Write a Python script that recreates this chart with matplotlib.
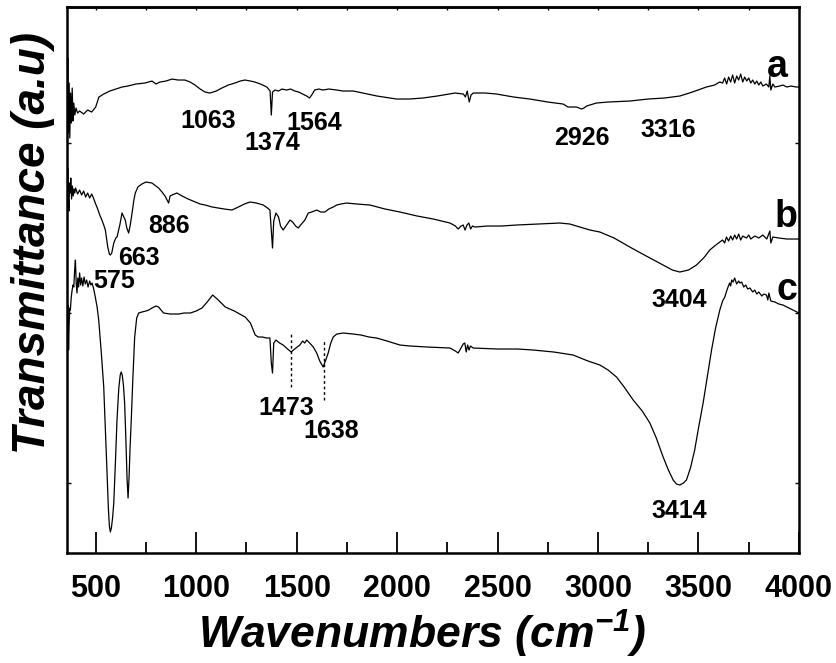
import matplotlib
matplotlib.use("Agg")
import matplotlib.pyplot as plt
from matplotlib.ticker import MultipleLocator

# FTIR spectra (wavenumber, transmittance in a.u.)
wn_a = [358, 361, 364, 368, 371, 375, 379, 383, 387, 391, 396, 402, 410, 420, 440, 460, 480, 500, 516, 540,
        570, 600, 631, 660, 700, 745, 780, 800, 820, 850, 880, 910, 944, 970, 994, 1020, 1044, 1069, 1100, 1128,
        1160, 1193, 1220, 1242, 1270, 1292, 1320, 1352, 1368, 1374, 1380, 1392, 1410, 1427, 1450, 1470, 1491, 1510,
        1530, 1550, 1564, 1575, 1590, 1610, 1630, 1661, 1700, 1730, 1782, 1830, 1900, 1997, 2060, 2128, 2200, 2288,
        2330, 2340, 2349, 2359, 2368, 2379, 2440, 2495, 2580, 2661, 2750, 2826, 2851, 2893, 2918, 2930, 2943, 2992,
        3050, 3158, 3250, 3330, 3407, 3470, 3539, 3580, 3606, 3620, 3630, 3640, 3650, 3660, 3670, 3680, 3690, 3700,
        3710, 3720, 3730, 3740, 3750, 3760, 3770, 3780, 3790, 3800, 3810, 3820, 3838, 3850, 3855, 3860, 3870, 3880,
        3904, 3920, 3940, 3960, 3987, 4000]
t_a = [378, 425, 350, 400, 345, 390, 360, 395, 362, 380, 368, 375, 370, 372, 369, 373, 371, 376, 386, 389,
       392, 394, 396, 397, 399, 400, 402, 399, 401, 402, 404, 403, 403, 401, 398, 394, 391, 390, 392, 395,
       398, 400, 402, 403, 402, 401, 399, 396, 392, 368, 391, 393, 392, 394, 393, 394, 392, 391,
       389, 387, 385, 388, 393, 394, 393, 394, 393, 392, 392, 390, 387, 384, 384, 385, 387, 390,
       389, 386, 392, 381, 388, 390, 390, 389, 386, 384, 381, 379, 376, 376, 374, 375, 377, 380,
       381, 382, 384, 385, 387, 391, 396, 398, 401, 400, 405, 399, 406, 401, 408, 400, 407, 403,
       409, 401, 406, 402, 405, 400, 403, 399, 402, 398, 401, 397, 399, 396, 407, 393, 399, 396,
       397, 398, 396, 397, 396, 396]

wn_b = [358, 361, 364, 367, 370, 373, 376, 380, 384, 388, 392, 396, 400, 410, 420, 430, 440, 450, 460, 470,
        480, 487, 498, 510, 520, 531, 540, 548, 560, 568, 573, 580, 590, 600, 606, 620, 631, 640, 647, 655,
        664, 672, 681, 690, 697, 710, 730, 750, 780, 800, 813, 830, 845, 855, 863, 870, 880, 904, 930, 960,
        996, 1020, 1045, 1080, 1110, 1140, 1178, 1210, 1240, 1268, 1300, 1334, 1355, 1367, 1374, 1380, 1386, 1397,
        1410, 1420, 1433, 1450, 1467, 1480, 1495, 1508, 1520, 1541, 1558, 1575, 1600, 1620, 1641, 1660, 1682, 1700,
        1720, 1749, 1800, 1865, 1940, 2014, 2100, 2180, 2263, 2290, 2304, 2318, 2329, 2338, 2348, 2357, 2366, 2375,
        2387, 2450, 2520, 2594, 2700, 2810, 2860, 2909, 2960, 3009, 3080, 3158, 3240, 3324, 3370, 3407, 3450, 3490,
        3530, 3556, 3580, 3606, 3620, 3630, 3639, 3650, 3660, 3670, 3680, 3690, 3700, 3710, 3720, 3739, 3750, 3760,
        3780, 3800, 3820, 3840, 3855, 3860, 3870, 3900, 3940, 3987, 4000]
t_b = [280, 315, 285, 272, 300, 290, 305, 284, 297, 287, 294, 290, 295, 289, 293, 288, 292, 286, 290, 285,
       289, 286, 280, 274, 268, 263, 258, 253, 236, 229, 228, 230, 240, 245, 246, 258, 270, 266, 263, 255,
       250, 258, 270, 283, 290, 296, 299, 301, 300, 297, 295, 291, 287, 283, 280, 287, 288, 290, 287, 284,
       281, 279, 278, 276, 275, 274, 273, 276, 279, 281, 280, 278, 275, 273, 252, 235, 262, 270,
       266, 257, 253, 258, 263, 261, 257, 255, 258, 263, 270, 271, 273, 271, 271, 274, 276, 278,
       279, 280, 279, 278, 274, 271, 267, 264, 260, 257, 254, 257, 258, 253, 258, 260, 254, 257,
       256, 257, 257, 258, 259, 260, 259, 256, 253, 251, 245, 236, 227, 218, 213, 211, 213, 218,
       226, 233, 237, 241, 243, 240, 246, 242, 247, 243, 248, 244, 249, 243, 247, 245, 248, 244,
       247, 245, 248, 244, 252, 240, 246, 245, 244, 244, 244]

wn_c = [358, 362, 365, 368, 371, 374, 378, 382, 387, 391, 395, 399, 403, 407, 411, 415, 420, 425, 430, 436,
        442, 448, 455, 462, 470, 476, 482, 490, 498, 507, 515, 528, 540, 548, 556, 563, 568, 573, 578, 584,
        590, 598, 606, 615, 622, 627, 632, 638, 644, 650, 656, 661, 666, 671, 677, 685, 694, 704, 714, 730,
        750, 764, 780, 800, 813, 825, 838, 870, 913, 940, 971, 1000, 1029, 1055, 1082, 1110, 1145, 1190, 1244, 1270,
        1294, 1309, 1330, 1350, 1367, 1374, 1380, 1386, 1397, 1415, 1433, 1455, 1473, 1490, 1516, 1530, 1540, 1550,
        1565, 1583, 1600, 1615, 1632, 1645, 1657, 1670, 1682, 1700, 1732, 1780, 1820, 1860, 1898, 1950, 2014, 2064,
        2150, 2263, 2290, 2304, 2318, 2329, 2337, 2344, 2351, 2358, 2365, 2379, 2500, 2600, 2677, 2780, 2876, 2950,
        3009, 3050, 3092, 3130, 3175, 3220, 3258, 3290, 3324, 3350, 3374, 3390, 3407, 3425, 3440, 3460, 3481, 3500,
        3523, 3545, 3565, 3585, 3606, 3620, 3631, 3640, 3647, 3655, 3660, 3665, 3672, 3680, 3690, 3700, 3706, 3715,
        3725, 3735, 3745, 3756, 3770, 3780, 3790, 3800, 3815, 3825, 3838, 3845, 3850, 3860, 3880, 3900, 3920, 3940,
        3960, 3980, 4000]
t_c = [170, 178, 133, 160, 175, 173, 185, 192, 198, 196, 212, 223, 200, 190, 205, 196, 210, 198, 205, 197,
       206, 199, 203, 196, 202, 198, 200, 194, 186, 176, 163, 130, 96, 55, 13, -25, -43, -49, -45, -35,
       -20, 20, 63, 95, 108, 111, 108, 98, 80, 45, 5, -15, 5, 35, 63, 105, 146, 165, 170, 171,
       172, 173, 175, 177, 176, 173, 170, 169, 169, 170, 170, 172, 175, 181, 188, 183, 176, 172, 166, 160,
       148, 146, 146, 145, 145, 120, 110, 140, 143, 140, 138, 134, 131, 134, 138, 142, 140, 143,
       140, 136, 130, 122, 116, 123, 130, 140, 146, 149, 150, 149, 148, 146, 145, 142, 138, 137,
       136, 135, 132, 130, 135, 139, 140, 131, 138, 133, 137, 135, 134, 134, 133, 131, 128, 122,
       118, 113, 106, 96, 83, 72, 60, 45, 26, 13, 3, -1, -2, 0, 3, 15, 33, 55,
       80, 108, 133, 155, 173, 182, 186, 192, 196, 200, 197, 203, 201, 205, 199, 202, 200, 201,
       196, 198, 194, 195, 191, 193, 189, 191, 187, 189, 188, 183, 190, 182, 181, 179, 178, 176,
       174, 172, 170]

# peak labels: (text, wavenumber position, baseline height)
peak_text = ["1063", "1374", "1564", "2926", "3316", "886", "663", "575", "3404", "1473", "1638", "3414"]
peak_x = [1059, 1380, 1586, 2918, 3348, 867, 714, 590, 3406, 1450, 1671, 3404]
peak_y = [355, 333, 353, 338, 346, 250, 218, 195, 176, 68, 45, -35]

plt.rcParams["font.family"] = ["Liberation Sans", "DejaVu Sans"]
plt.rcParams["mathtext.default"] = "regular"

fig = plt.figure(figsize=(8.36, 6.63), dpi=100)
ax = fig.add_axes([0.0801, 0.1659, 0.8756, 0.8235])

for wn, t in [(wn_a, t_a), (wn_b, t_b), (wn_c, t_c)]:
    ax.plot(wn, t, color="black", lw=0.9)

for txt, x, y in zip(peak_text, peak_x, peak_y):
    ax.text(x, y, txt, ha="center", va="baseline", fontsize=18, fontweight="bold")

# dotted markers at 1473 and 1638
ax.plot([1473, 1473], [96, 150], color="black", lw=1.0, ls=(0, (2, 2)))
ax.plot([1637, 1637], [83, 144], color="black", lw=1.0, ls=(0, (2, 2)))

for lab, x, y in [("a", 3894, 406), ("b", 3937, 256), ("c", 3939, 183)]:
    ax.text(x, y, lab, ha="center", va="baseline", fontsize=27, fontweight="bold")

ax.set_xlim(357, 4000)
ax.set_ylim(-70, 476)
ax.xaxis.set_major_locator(MultipleLocator(500))
ax.xaxis.set_minor_locator(MultipleLocator(250))
ax.set_yticks([0, 170, 340])
ax.set_yticklabels([])

ax.tick_params(axis="x", which="major", direction="in", length=15, width=1.3,
               labelsize=22, pad=15, top=False)
ax.tick_params(axis="x", which="minor", direction="in", length=8, width=1.3, top=False)
ax.tick_params(axis="y", which="major", direction="in", length=3, width=1.0, right=True)
for lbl in ax.get_xticklabels():
    lbl.set_fontweight("bold")

# tiny ticks along the top edge
top = ax.secondary_xaxis("top")
top.xaxis.set_major_locator(MultipleLocator(250))
top.tick_params(direction="in", length=2, width=1.0, labeltop=False)
top.spines["top"].set_linewidth(1.8)

for s in ax.spines.values():
    s.set_linewidth(1.8)

ax.set_xlabel("Wavenumbers (cm$^{-1}$)", fontsize=32, fontweight="bold", style="italic")
ax.set_ylabel("Transmittance (a.u)", fontsize=33, fontweight="bold", style="italic")
ax.xaxis.set_label_coords(0.485, -0.100)
ax.yaxis.set_label_coords(-0.016, 0.568)

fig.savefig("out.png", dpi=100)
